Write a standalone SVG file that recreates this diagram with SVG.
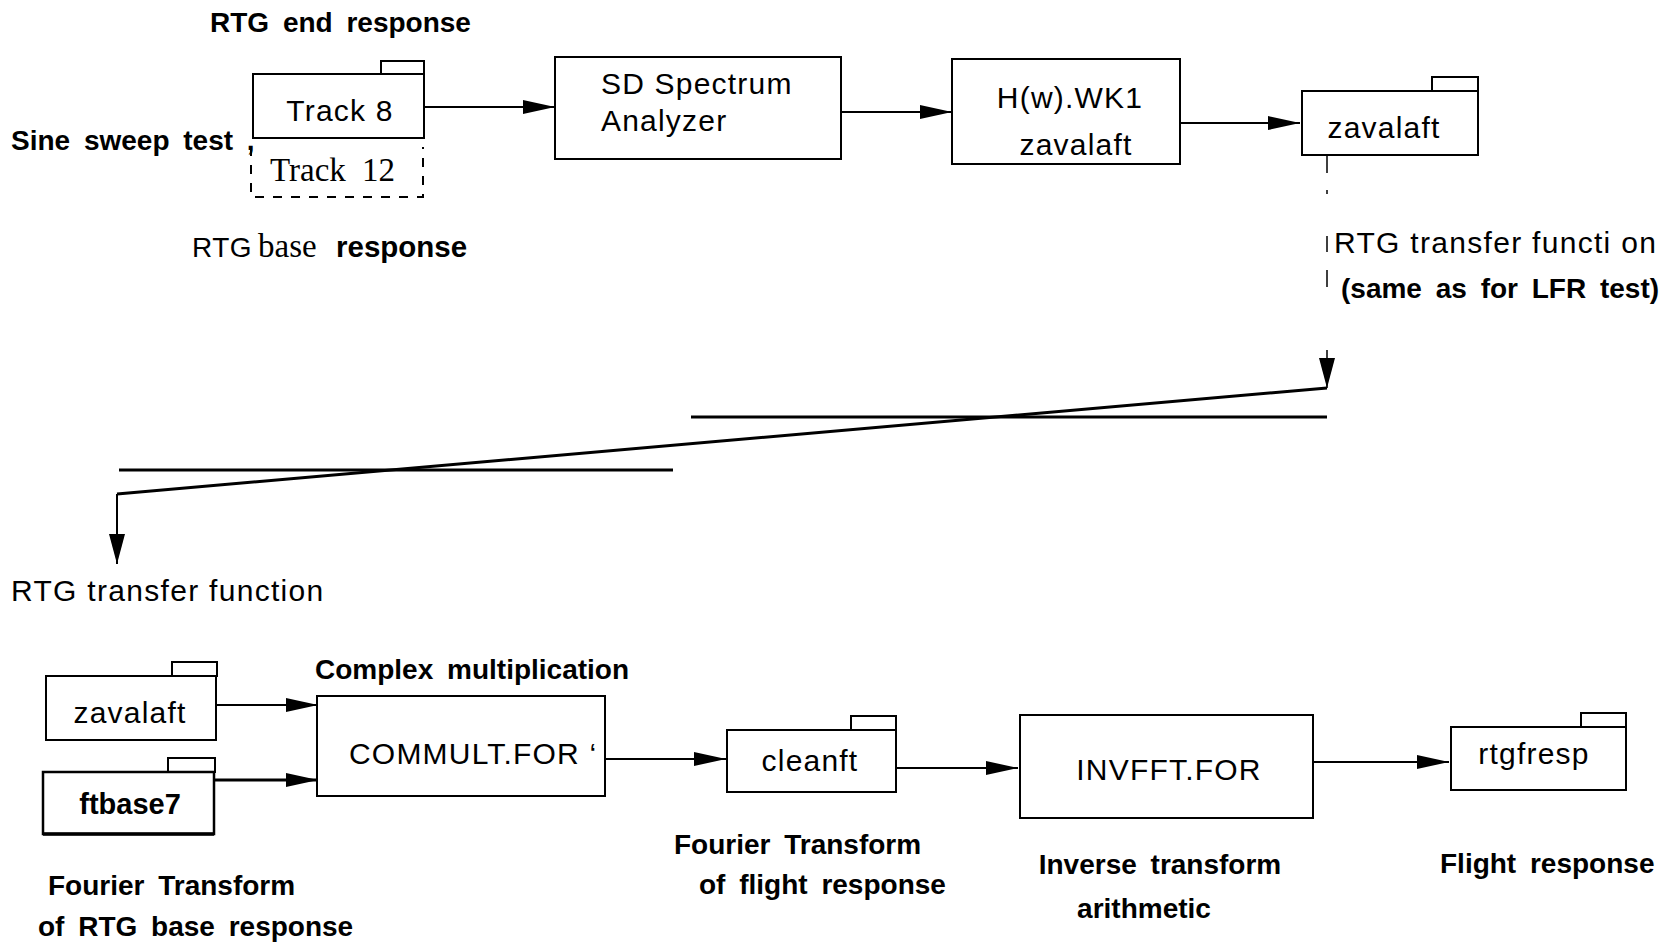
<svg xmlns="http://www.w3.org/2000/svg" width="1674" height="946" viewBox="0 0 1674 946">
  <style>
    .box { fill: #fff; stroke: #000; stroke-width: 2; }
    .tab { fill: #fff; stroke: #000; stroke-width: 2; }
    .lbl { font-family: "Liberation Sans", Arial, sans-serif; font-size: 30px; letter-spacing: 1.2px; fill: #000; }
    .bold { font-family: "Liberation Sans", Arial, sans-serif; font-size: 28px; font-weight: bold; word-spacing: 6px; fill: #000; }
    .din { font-family: "Liberation Sans", Arial, sans-serif; font-size: 30px; letter-spacing: 1.3px; fill: #000; }
    .serif { font-family: "Liberation Serif", "Times New Roman", serif; font-size: 33px; fill: #000; }
    .wire { fill: none; stroke: #000; stroke-width: 2; }
    .thick { fill: none; stroke: #000; stroke-width: 3; }
  </style>
  <defs>
    <marker id="arrow" viewBox="0 0 32 14" refX="32" refY="7" markerWidth="32" markerHeight="14" markerUnits="userSpaceOnUse" orient="auto">
      <path d="M0,0 L32,7 L0,14 Z" fill="#000"/>
    </marker>
    <marker id="arrowV" viewBox="0 0 30 16" refX="30" refY="8" markerWidth="30" markerHeight="16" markerUnits="userSpaceOnUse" orient="auto">
      <path d="M0,0 L30,8 L0,16 Z" fill="#000"/>
    </marker>
  </defs>

  <!-- free-standing labels -->
  <g id="labels">
    <text class="bold" x="210" y="32">RTG end response</text>
    <text class="bold" x="11" y="150">Sine sweep test ,</text>
    <text y="257"><tspan class="din" x="192" style="font-size:28px;letter-spacing:0.5px">RTG</tspan><tspan class="serif" x="258">base</tspan><tspan class="bold" x="336" style="font-size:29.5px">response</tspan></text>
    <text class="din" x="1334" y="253">RTG transfer functi on</text>
    <text class="bold" x="1341" y="298">(same as for LFR test)</text>
    <text class="din" x="11" y="601">RTG transfer function</text>
    <text class="bold" x="315" y="679">Complex multiplication</text>
    <text class="bold" x="674" y="854">Fourier Transform</text>
    <text class="bold" x="699" y="894">of flight response</text>
    <text class="bold" x="1160" y="874" text-anchor="middle">Inverse transform</text>
    <text class="bold" x="1144" y="918" text-anchor="middle">arithmetic</text>
    <text class="bold" x="1440" y="873">Flight response</text>
    <text class="bold" x="48" y="895">Fourier Transform</text>
    <text class="bold" x="38" y="936">of RTG base response</text>
  </g>

  <!-- top row -->
  <g id="track8">
    <rect class="tab" x="381" y="61" width="43" height="13"/>
    <rect class="box" x="253" y="74" width="171" height="64"/>
    <text class="lbl" x="340" y="121" text-anchor="middle">Track 8</text>
  </g>
  <g id="track12">
    <path d="M251,147 V197 H423 V147" fill="none" stroke="#000" stroke-width="2" stroke-dasharray="9 9"/>
    <text class="serif" x="270" y="181" style="word-spacing:8px">Track 12</text>
  </g>
  <g id="spectrum-analyzer">
    <rect class="box" x="555" y="57" width="286" height="102"/>
    <text class="lbl" x="601" y="94">SD Spectrum</text>
    <text class="lbl" x="601" y="131">Analyzer</text>
  </g>
  <g id="hw-wk1">
    <rect class="box" x="952" y="59" width="228" height="105"/>
    <text class="lbl" x="1070" y="108" text-anchor="middle">H(w).WK1</text>
    <text class="lbl" x="1076" y="155" text-anchor="middle">zavalaft</text>
  </g>
  <g id="zavalaft-top">
    <rect class="tab" x="1432" y="77" width="46" height="14"/>
    <rect class="box" x="1302" y="91" width="176" height="64"/>
    <text class="lbl" x="1384" y="138" text-anchor="middle">zavalaft</text>
  </g>

  <!-- bottom row -->
  <g id="zavalaft-bottom">
    <rect class="tab" x="172" y="662" width="45" height="14"/>
    <rect class="box" x="46" y="676" width="170" height="64"/>
    <text class="lbl" x="130" y="723" text-anchor="middle">zavalaft</text>
  </g>
  <g id="ftbase7">
    <rect class="tab" x="168" y="758" width="47" height="14"/>
    <rect class="box" x="43" y="772" width="171" height="62" style="stroke-width:2.5px"/>
    <path d="M43,834 H214" fill="none" stroke="#000" stroke-width="3.5"/>
    <text class="bold" x="130" y="814" text-anchor="middle" style="font-size:29px">ftbase7</text>
  </g>
  <g id="commult">
    <rect class="box" x="317" y="696" width="288" height="100"/>
    <text class="lbl" x="349" y="764">COMMULT.FOR ‘</text>
  </g>
  <g id="cleanft">
    <rect class="tab" x="851" y="716" width="45" height="14"/>
    <rect class="box" x="727" y="730" width="169" height="62"/>
    <text class="lbl" x="810" y="771" text-anchor="middle">cleanft</text>
  </g>
  <g id="invfft">
    <rect class="box" x="1020" y="715" width="293" height="103"/>
    <text class="lbl" x="1169" y="780" text-anchor="middle">INVFFT.FOR</text>
  </g>
  <g id="rtgfresp">
    <rect class="tab" x="1581" y="713" width="45" height="14"/>
    <rect class="box" x="1451" y="727" width="175" height="63"/>
    <text class="lbl" x="1534" y="764" text-anchor="middle">rtgfresp</text>
  </g>

  <!-- connectors -->
  <g id="connectors">
    <path class="wire" d="M424,107 H555" marker-end="url(#arrow)"/>
    <path class="wire" d="M841,112 H952" marker-end="url(#arrow)"/>
    <path class="wire" d="M1180,123 H1300" marker-end="url(#arrow)"/>
    <path class="wire" d="M1327,155 V173 M1327,190 V194 M1327,236 V252 M1327,270 V287 M1327,350 V388" style="stroke-width:1.5px" marker-end="url(#arrowV)"/>
    <path class="thick" d="M691,417 H1327"/>
    <path class="thick" d="M119,470 H673"/>
    <path class="thick" d="M1327,388 L117,494"/>
    <path class="wire" d="M117,494 V564" marker-end="url(#arrowV)"/>
    <path class="wire" d="M216,705 H318" marker-end="url(#arrow)"/>
    <path class="thick" d="M214,780 H318" marker-end="url(#arrow)"/>
    <path class="wire" d="M605,759 H726" marker-end="url(#arrow)"/>
    <path class="wire" d="M895,768 H1018" marker-end="url(#arrow)"/>
    <path class="wire" d="M1313,762 H1449" marker-end="url(#arrow)"/>
  </g>
</svg>
